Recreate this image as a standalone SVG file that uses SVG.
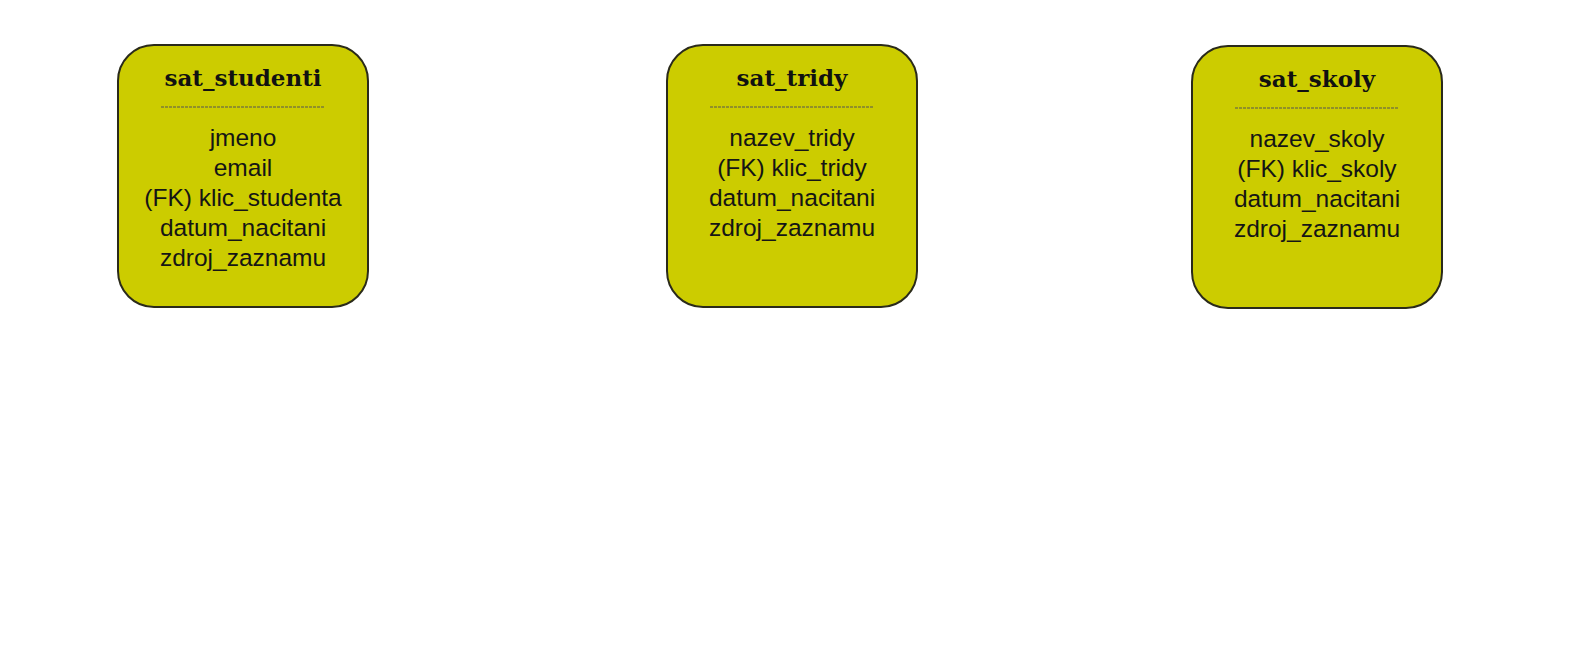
<svg xmlns="http://www.w3.org/2000/svg" width="1577" height="656" viewBox="0 0 1577 656">
<style>
.box{fill:#cccc00;stroke:#2a2a1a;stroke-width:2}
.title{font-family:"DejaVu Serif",serif;font-weight:bold;font-size:23px;fill:#111;text-anchor:middle}
.sep{stroke:#555;stroke-width:1;stroke-dasharray:3 1}
.f{font-family:"Liberation Sans",Arial,sans-serif;font-size:24.5px;fill:#151515;text-anchor:middle}
</style>
<rect width="1577" height="656" fill="#ffffff"/>
<g id="sat_studenti">
<rect class="box" x="118" y="45" width="250" height="262" rx="36"/>
<text class="title" x="243" y="86">sat_studenti</text>
<line class="sep" x1="161" y1="107" x2="325" y2="107"/>
<text class="f" x="243" y="146">jmeno</text>
<text class="f" x="243" y="176">email</text>
<text class="f" x="243" y="206">(FK) klic_studenta</text>
<text class="f" x="243" y="236">datum_nacitani</text>
<text class="f" x="243" y="266">zdroj_zaznamu</text>
</g>
<g id="sat_tridy">
<rect class="box" x="667" y="45" width="250" height="262" rx="36"/>
<text class="title" x="792" y="86">sat_tridy</text>
<line class="sep" x1="710" y1="107" x2="874" y2="107"/>
<text class="f" x="792" y="146">nazev_tridy</text>
<text class="f" x="792" y="176">(FK) klic_tridy</text>
<text class="f" x="792" y="206">datum_nacitani</text>
<text class="f" x="792" y="236">zdroj_zaznamu</text>
</g>
<g id="sat_skoly">
<rect class="box" x="1192" y="46" width="250" height="262" rx="36"/>
<text class="title" x="1317" y="87">sat_skoly</text>
<line class="sep" x1="1235" y1="108" x2="1399" y2="108"/>
<text class="f" x="1317" y="147">nazev_skoly</text>
<text class="f" x="1317" y="177">(FK) klic_skoly</text>
<text class="f" x="1317" y="207">datum_nacitani</text>
<text class="f" x="1317" y="237">zdroj_zaznamu</text>
</g>
<g id="connectors"></g>
</svg>
